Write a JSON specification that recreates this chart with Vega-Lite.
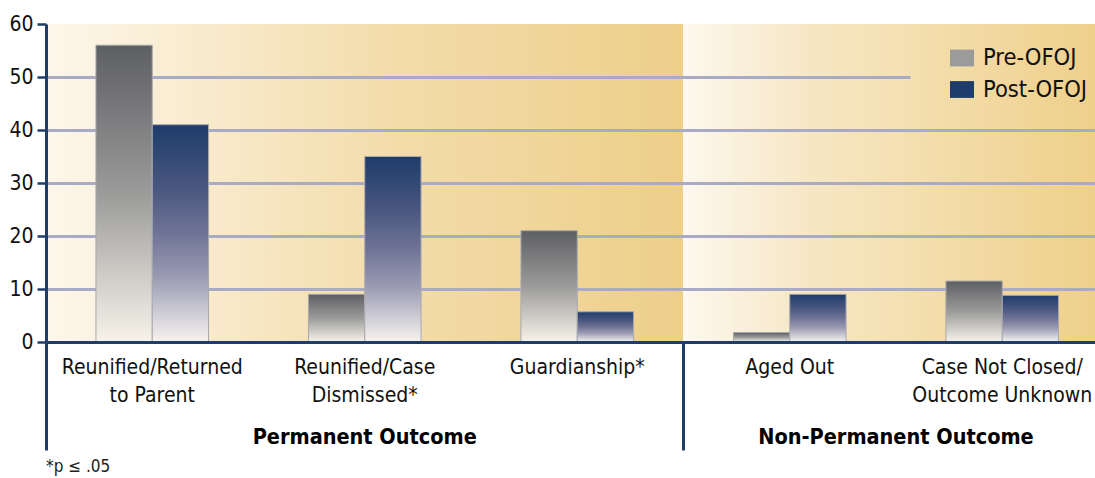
{
  "$schema": "https://vega.github.io/schema/vega-lite/v6.json",
  "autosize": {"type": "none"},
  "padding": {"left": 46, "top": 24, "right": 0, "bottom": 136},
  "background": "white",
  "width": 1049,
  "height": 318,
  "view": {
    "stroke": null,
    "fill": {"gradient": "linear", "x1": 0, "y1": 0, "x2": 1, "y2": 0,
      "stops": [
        {"offset": 0, "color": "#fdf7eb"},
        {"offset": 0.146, "color": "#f8ebcd"},
        {"offset": 0.334, "color": "#f3dcaa"},
        {"offset": 0.6077, "color": "#eecf8a"},
        {"offset": 0.6077, "color": "#fdf8ee"},
        {"offset": 0.7293, "color": "#f6e7c4"},
        {"offset": 0.8235, "color": "#f4dfb0"},
        {"offset": 1, "color": "#efd08b"}
      ]}
  },
  "data": {
    "values": [
      {"section": "Permanent Outcome", "outcome": "Reunified/Returned to Parent", "period": "Pre-OFOJ", "percent": 56},
      {"section": "Permanent Outcome", "outcome": "Reunified/Returned to Parent", "period": "Post-OFOJ", "percent": 41},
      {"section": "Permanent Outcome", "outcome": "Reunified/Case Dismissed*", "period": "Pre-OFOJ", "percent": 9},
      {"section": "Permanent Outcome", "outcome": "Reunified/Case Dismissed*", "period": "Post-OFOJ", "percent": 35},
      {"section": "Permanent Outcome", "outcome": "Guardianship*", "period": "Pre-OFOJ", "percent": 21},
      {"section": "Permanent Outcome", "outcome": "Guardianship*", "period": "Post-OFOJ", "percent": 5.7},
      {"section": "Non-Permanent Outcome", "outcome": "Aged Out", "period": "Pre-OFOJ", "percent": 1.8},
      {"section": "Non-Permanent Outcome", "outcome": "Aged Out", "period": "Post-OFOJ", "percent": 9},
      {"section": "Non-Permanent Outcome", "outcome": "Case Not Closed/Outcome Unknown", "period": "Pre-OFOJ", "percent": 11.5},
      {"section": "Non-Permanent Outcome", "outcome": "Case Not Closed/Outcome Unknown", "period": "Post-OFOJ", "percent": 8.8}
    ]
  },
  "title": {
    "text": "*p ≤ .05",
    "orient": "bottom",
    "anchor": "start",
    "frame": "group",
    "fontSize": 17,
    "fontWeight": "normal",
    "color": "#222222",
    "offset": 7
  },
  "encoding": {
    "xOffset": {
      "field": "period", "type": "nominal",
      "scale": {"domain": ["Pre-OFOJ", "Post-OFOJ"], "paddingInner": 0, "paddingOuter": 0.887}
    },
    "y": {
      "field": "percent", "type": "quantitative",
      "scale": {"domain": [0, 60], "nice": false},
      "axis": {
        "title": null,
        "values": [0, 10, 20, 30, 40, 50, 60],
        "labelFontSize": 21, "labelPadding": 4,
        "tickSize": 9, "tickWidth": 2.5,
        "domainWidth": 3,
        "grid": true,
        "gridOpacity": {"condition": {"test": "datum.value === 60 || datum.value === 0", "value": 0}, "value": 1},
        "gridDash": {"condition": {"test": "datum.value === 50", "value": [864, 2000]}, "value": []}
      }
    }
  },
  "layer": [
    {
      "transform": [{"filter": "datum.period === 'Pre-OFOJ'"}],
      "mark": {"type": "bar", "stroke": "#a8a8ae", "strokeWidth": 1,
        "fill": {"gradient": "linear", "x1": 0, "y1": 0, "x2": 0, "y2": 1,
          "stops": [
            {"offset": 0, "color": "#5e5f63"},
            {"offset": 0.5, "color": "#9b9b9a"},
            {"offset": 1, "color": "#f7f3ea"}
          ]}},
      "encoding": {
        "x": {
          "field": "outcome", "type": "nominal",
          "sort": ["Reunified/Returned to Parent", "Reunified/Case Dismissed*", "Guardianship*", "Aged Out", "Case Not Closed/Outcome Unknown"],
          "scale": {"paddingInner": 0, "paddingOuter": 0, "range": [0, 1062.5]},
          "axis": {
            "title": null,
            "orient": "bottom",
            "labelExpr": "datum.value === 'Reunified/Returned to Parent' ? ['Reunified/Returned', 'to Parent'] : datum.value === 'Reunified/Case Dismissed*' ? ['Reunified/Case', 'Dismissed*'] : datum.value === 'Case Not Closed/Outcome Unknown' ? ['Case Not Closed/', 'Outcome Unknown'] : datum.value",
            "labelAngle": 0, "labelLimit": 0, "labelOverlap": false,
            "labelLineHeight": 28, "labelPadding": 14, "labelFontSize": 21,
            "ticks": false,
            "domainWidth": 3, "zindex": 1, "grid": false
          }
        }
      }
    },
    {
      "transform": [{"filter": "datum.period === 'Post-OFOJ'"}],
      "mark": {"type": "bar", "stroke": "#a8a8ae", "strokeWidth": 1,
        "fill": {"gradient": "linear", "x1": 0, "y1": 0, "x2": 0, "y2": 1,
          "stops": [
            {"offset": 0, "color": "#1e3c6b"},
            {"offset": 0.3, "color": "#4b5880"},
            {"offset": 0.5, "color": "#6f7496"},
            {"offset": 0.7, "color": "#9a9ab2"},
            {"offset": 0.9, "color": "#d8d6dc"},
            {"offset": 1, "color": "#f6f3ee"}
          ]}},
      "encoding": {
        "x": {
          "field": "outcome", "type": "nominal",
          "sort": ["Reunified/Returned to Parent", "Reunified/Case Dismissed*", "Guardianship*", "Aged Out", "Case Not Closed/Outcome Unknown"],
          "axis": null
        }
      }
    },
    {
      "mark": {"type": "bar", "opacity": 0},
      "encoding": {
        "x": {
          "field": "outcome", "type": "nominal",
          "sort": ["Reunified/Returned to Parent", "Reunified/Case Dismissed*", "Guardianship*", "Aged Out", "Case Not Closed/Outcome Unknown"],
          "axis": {
            "title": null, "orient": "bottom", "domain": false, "grid": false,
            "bandPosition": 0,
            "ticks": true, "tickSize": 108, "tickWidth": 3,
            "tickOpacity": {"condition": {"test": "datum.value === 'Reunified/Returned to Parent' || datum.value === 'Aged Out'", "value": 1}, "value": 0},
            "labelExpr": "datum.value === 'Reunified/Case Dismissed*' ? 'Permanent Outcome' : datum.value === 'Aged Out' ? 'Non-Permanent Outcome' : ''",
            "labelOffset": {"condition": {"test": "datum.value === 'Aged Out'", "value": 106.25}, "value": 0},
            "labelBaseline": "alphabetic", "labelPadding": -7,
            "labelFontSize": 21.5, "labelFontWeight": "bold", "labelColor": "#000000",
            "labelAngle": 0, "labelLimit": 0, "labelOverlap": false
          }
        },
        "color": {
          "field": "period", "type": "nominal",
          "scale": {"domain": ["Pre-OFOJ", "Post-OFOJ"], "range": ["#9b9b9b", "#1f3d6b"]},
          "legend": {
            "title": null,
            "orient": "none",
            "legendX": 904,
            "legendY": 22,
            "symbolType": "M-1,-0.7H1V0.7H-1Z",
            "symbolSize": 576,
            "symbolOpacity": 1,
            "symbolStrokeWidth": 0,
            "labelFontSize": 23.5,
            "labelOffset": 9,
            "rowPadding": 7.5
          }
        }
      }
    }
  ],
  "resolve": {"axis": {"x": "independent"}},
  "config": {
    "font": "DejaVu Sans Condensed, sans-serif",
    "axis": {
      "labelFont": "DejaVu Sans Condensed, sans-serif",
      "titleFont": "DejaVu Sans Condensed, sans-serif",
      "labelColor": "#111111",
      "titleColor": "#000000",
      "gridColor": "#a9aac6",
      "gridWidth": 3,
      "domainColor": "#1f3d6b",
      "tickColor": "#1f3d6b"
    },
    "legend": {
      "labelFont": "DejaVu Sans Condensed, sans-serif",
      "labelColor": "#111111"
    },
    "title": {
      "font": "DejaVu Sans Condensed, sans-serif"
    }
  }
}
